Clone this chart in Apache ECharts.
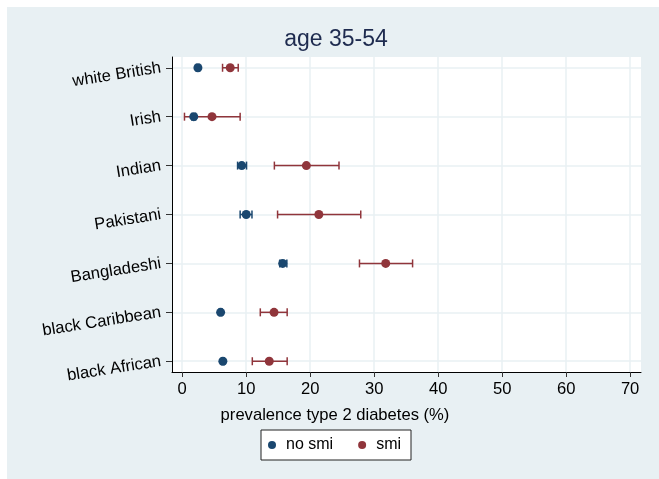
<!DOCTYPE html>
<html>
<head>
<meta charset="utf-8">
<script src="https://cdn.jsdelivr.net/npm/echarts@6/dist/echarts.min.js"></script>
<style>
html,body{margin:0;padding:0;background:#ffffff;}
#bg{position:absolute;left:7px;top:7px;width:652px;height:472px;background:#e8f0f3;}
#c{position:absolute;left:0;top:0;width:659px;height:479px;}
</style>
</head>
<body>
<div id="bg"></div>
<div id="c"></div>
<script>
const categories = ['white British','Irish','Indian','Pakistani','Bangladeshi','black Caribbean','black African'];
const xTicks = [0,10,20,30,40,50,60,70];
const noSmi    = [2.45, 1.8, 9.3, 10.0, 15.7, 6.0, 6.35];
const noSmiLow = [2.2, 1.5, 8.65, 9.05, 15.25, 5.8, 6.15];
const noSmiHigh= [2.7, 2.1, 10.05, 10.9, 16.35, 6.2, 6.55];
const smi      = [7.5, 4.65, 19.4, 21.35, 31.8, 14.35, 13.6];
const smiLow   = [6.3, 0.35, 14.4, 14.9, 27.7, 12.2, 10.95];
const smiHigh  = [8.75, 9.05, 24.5, 27.9, 36.0, 16.4, 16.4];

const chart = echarts.init(document.getElementById('c'), null, {renderer:'canvas'});
const font = '"Liberation Sans", Arial, Helvetica, sans-serif';
const blue = '#1a476f', red = '#90353b';

function errSeries(name, low, high, color){
  return {
    type:'custom', name:name,
    itemStyle:{color:color},
    data: low.map((l,i)=>[l, high[i], i]),
    encode:{x:[0,1], y:2},
    renderItem:function(params, api){
      const a = api.coord([api.value(0), api.value(2)]);
      const b = api.coord([api.value(1), api.value(2)]);
      const h = 4;
      const st = {stroke:color, lineWidth:1.5};
      return {type:'group', children:[
        {type:'line', shape:{x1:a[0],y1:a[1],x2:b[0],y2:b[1]}, style:st},
        {type:'line', shape:{x1:a[0],y1:a[1]-h,x2:a[0],y2:a[1]+h}, style:st},
        {type:'line', shape:{x1:b[0],y1:b[1]-h,x2:b[0],y2:b[1]+h}, style:st}
      ]};
    },
    silent:true, z:2
  };
}

chart.setOption({
  backgroundColor:'transparent',
  animation:false,
  color:[blue, red],
  title:[{
    text:'age 35-54', left:331, top:23, textAlign:'center',
    textStyle:{fontFamily:font, fontSize:23, fontWeight:'normal', color:'#1e2b4f'}
  },{
    text:'prevalence type 2 diabetes (%)', left:330, top:402, textAlign:'center',
    textStyle:{fontFamily:font, fontSize:16.6, fontWeight:'normal', color:'#000'}
  }],
  legend:{
    data:[{name:'no smi', itemStyle:{color:blue}},{name:'smi', itemStyle:{color:red}}],
    left:261, top:430,
    backgroundColor:'#ffffff', borderColor:'#222', borderWidth:1,
    padding:[7,10,7,7],
    itemWidth:18, itemHeight:8, itemGap:25,
    icon:'circle',
    textStyle:{fontFamily:font, fontSize:16, color:'#000'}
  },
  grid:{left:172, right:18, top:57, bottom:107, show:true, backgroundColor:'#ffffff', borderWidth:0},
  xAxis:{
    type:'value', min:-1.6, max:71.7,
    axisLine:{show:true, onZero:false, lineStyle:{color:'#000', width:1}},
    axisTick:{show:true, length:5, lineStyle:{color:'#333'}, customValues:xTicks},
    axisLabel:{customValues:xTicks, fontFamily:font, fontSize:16.6, color:'#000', margin:9},
    splitLine:{show:true, lineStyle:{color:'#e8f0f3', width:1.5}}
  },
  yAxis:{
    type:'value', inverse:true, min:-0.22, max:6.22,
    axisLine:{show:true, onZero:false, lineStyle:{color:'#000', width:1}},
    axisTick:{show:true, length:6, lineStyle:{color:'#333'}, customValues:categories.map((c,i)=>i)},
    axisLabel:{customValues:categories.map((c,i)=>i), formatter:v=>categories[Math.round(v)],
      fontFamily:font, fontSize:16.6, color:'#000', rotate:9, margin:11},
    splitLine:{show:true, lineStyle:{color:'#e8f0f3', width:1.5}}
  },
  series:[
    errSeries('no smi', noSmiLow, noSmiHigh, blue),
    errSeries('smi', smiLow, smiHigh, red),
    {type:'scatter', name:'no smi', data:noSmi.map((v,i)=>[v,i]), symbolSize:9, itemStyle:{color:blue, opacity:1}, z:3},
    {type:'scatter', name:'smi', data:smi.map((v,i)=>[v,i]), symbolSize:9, itemStyle:{color:red, opacity:1}, z:3}
  ]
});
</script>
</body>
</html>
